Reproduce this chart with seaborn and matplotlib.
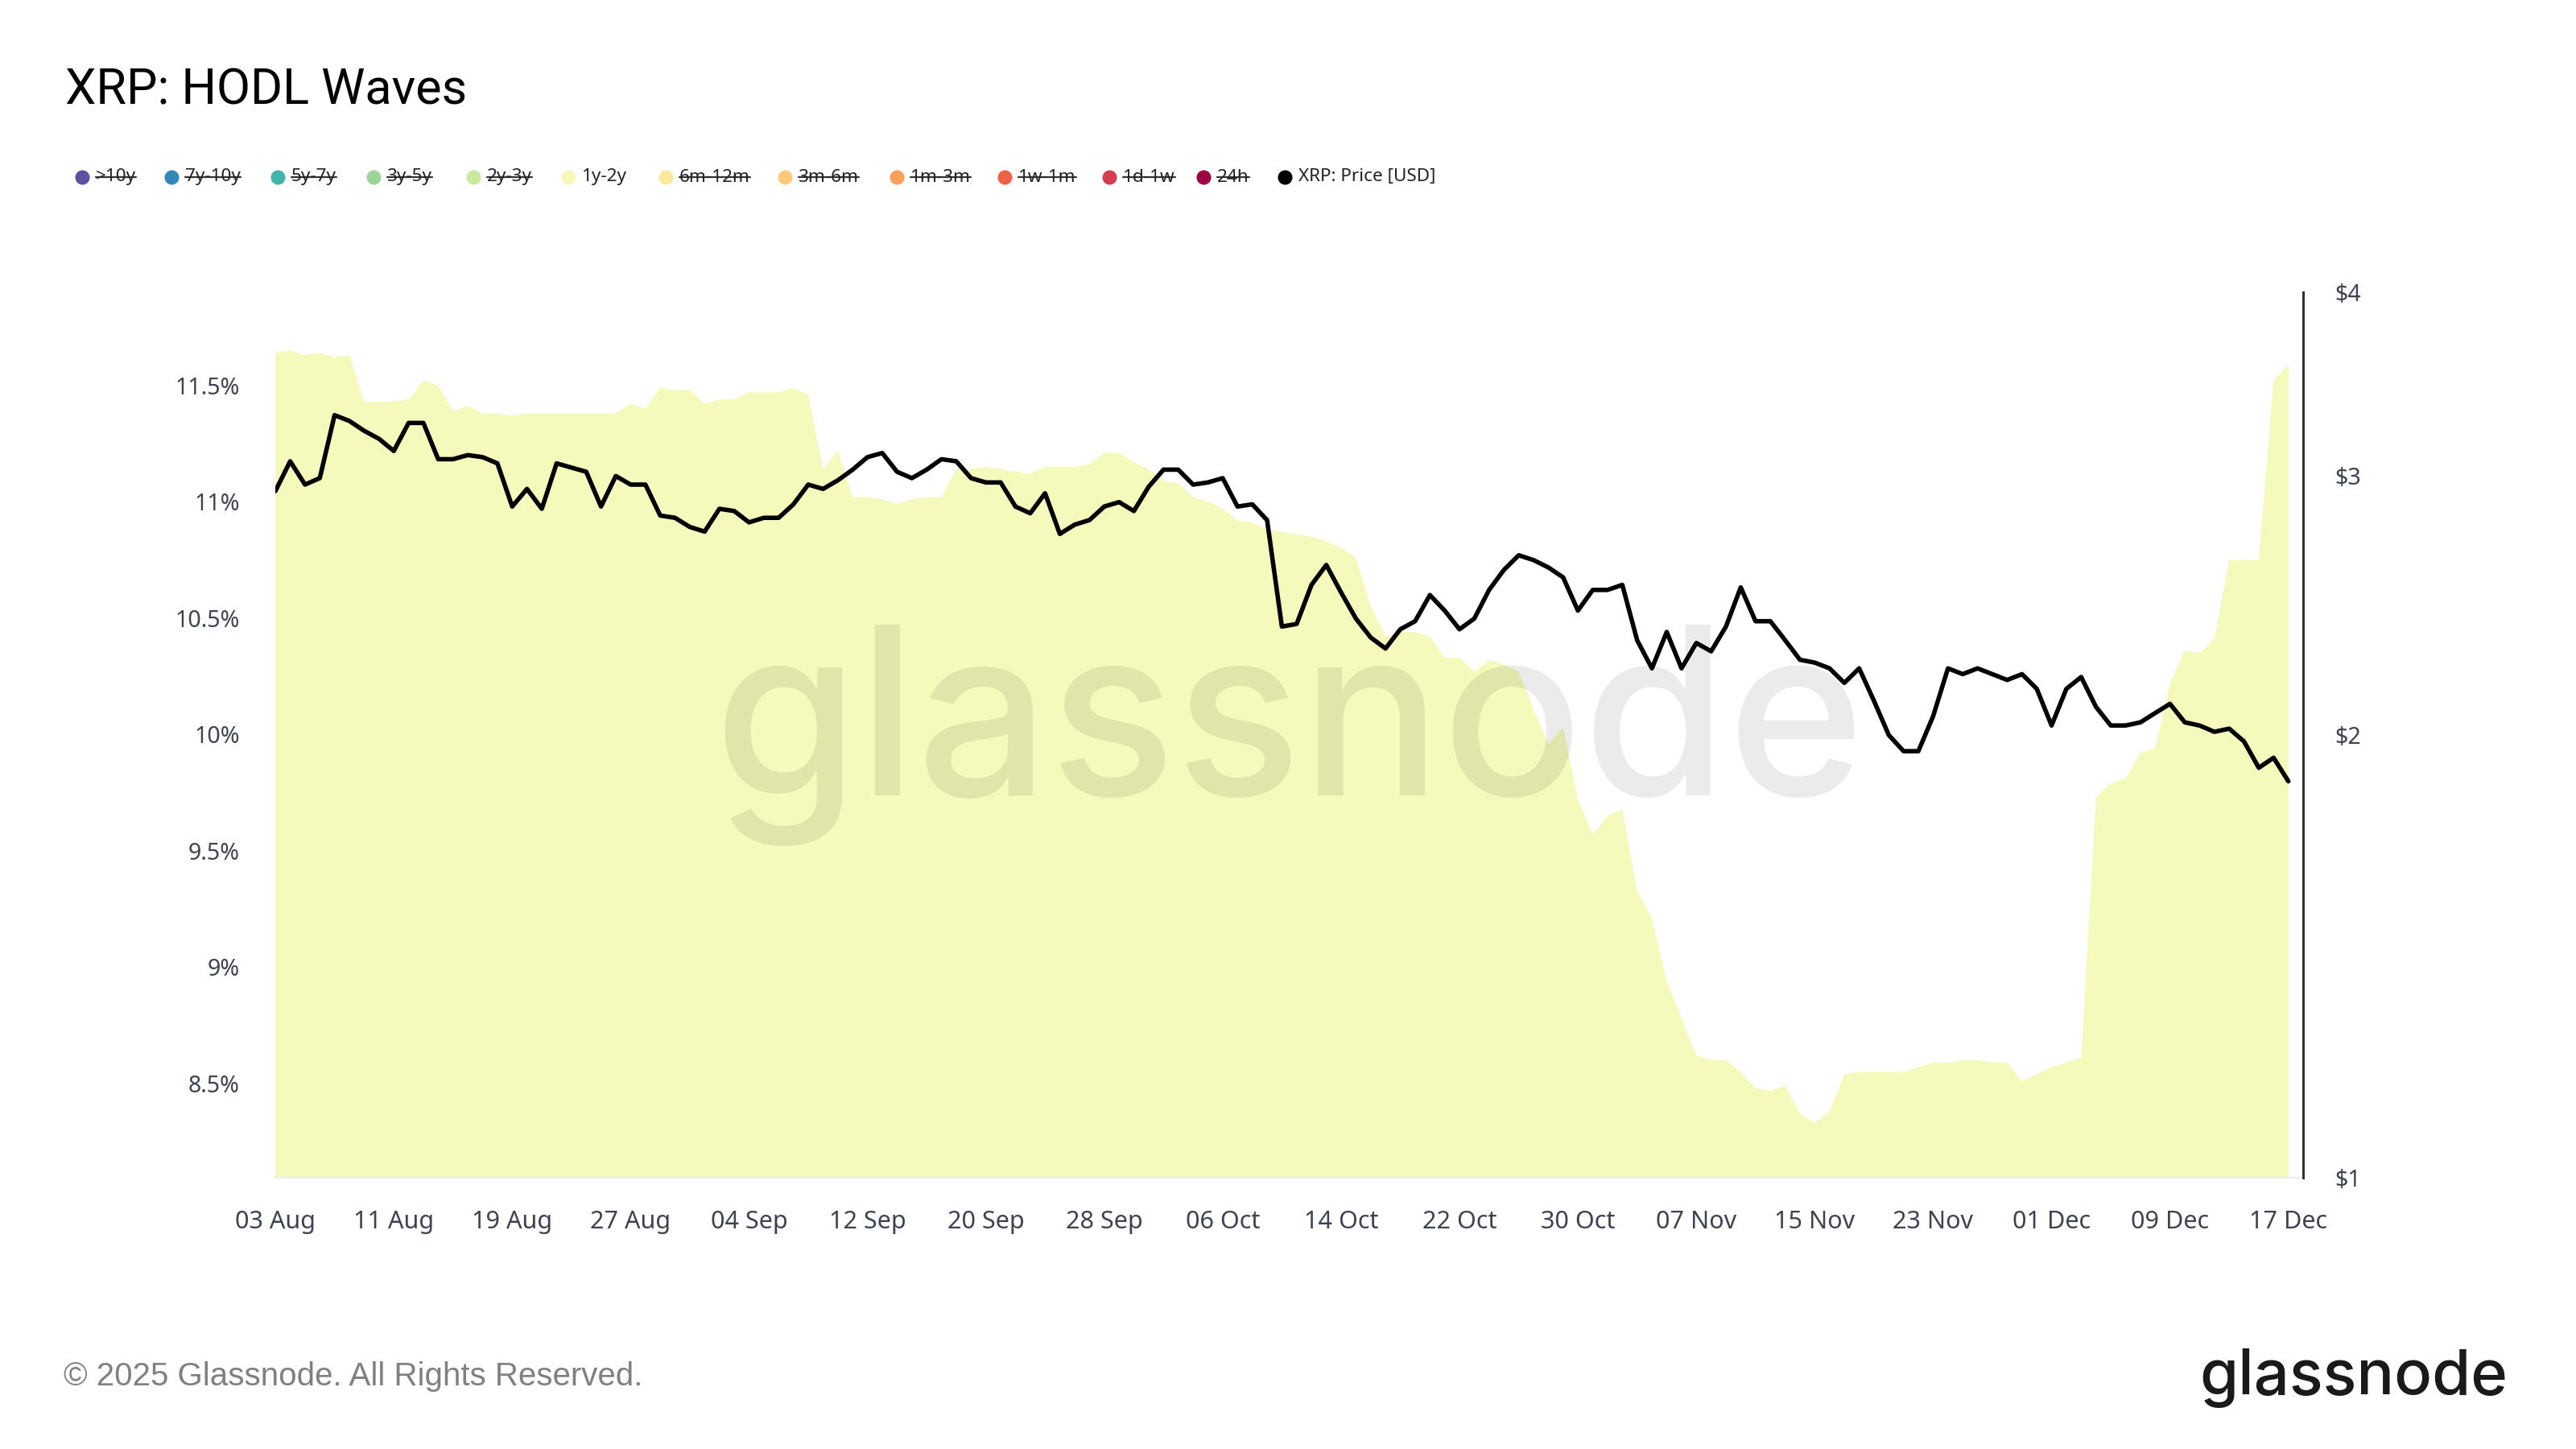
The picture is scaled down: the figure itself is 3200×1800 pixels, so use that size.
import numpy as np
import pandas as pd
import matplotlib
matplotlib.use("Agg")
import matplotlib.pyplot as plt
import matplotlib.dates as mdates
from matplotlib.lines import Line2D
from matplotlib.ticker import FixedLocator, NullLocator
import seaborn as sns

# daily values, 03 Aug -> 17 Dec 2025
dates = pd.date_range("2025-08-03", "2025-12-17", freq="D")

# share of supply held 1y-2y (%)
hodl_1y_2y = [
    11.64, 11.65, 11.63, 11.64, 11.62, 11.63, 11.43, 11.43, 11.43, 11.44,
    11.52, 11.50, 11.39, 11.41, 11.38, 11.38, 11.37, 11.38, 11.38, 11.38,
    11.38, 11.38, 11.38, 11.38, 11.42, 11.40, 11.49, 11.48, 11.48, 11.42,
    11.44, 11.44, 11.47, 11.47, 11.47, 11.49, 11.46, 11.14, 11.22, 11.02,
    11.02, 11.01, 10.99, 11.01, 11.02, 11.02, 11.14, 11.14, 11.15, 11.14,
    11.13, 11.12, 11.15, 11.15, 11.15, 11.16, 11.21, 11.21, 11.17, 11.14,
    11.09, 11.08, 11.02, 11.00, 10.97, 10.92, 10.91, 10.88, 10.87, 10.86,
    10.85, 10.83, 10.80, 10.76, 10.55, 10.42, 10.44, 10.44, 10.42, 10.33,
    10.33, 10.27, 10.32, 10.30, 10.27, 10.11, 9.96, 10.03, 9.72, 9.57,
    9.65, 9.68, 9.33, 9.21, 8.94, 8.78, 8.62, 8.60, 8.60, 8.55,
    8.48, 8.47, 8.49, 8.37, 8.33, 8.38, 8.54, 8.55, 8.55, 8.55,
    8.55, 8.57, 8.59, 8.59, 8.60, 8.60, 8.59, 8.59, 8.51, 8.54,
    8.57, 8.59, 8.61, 9.73, 9.79, 9.81, 9.92, 9.94, 10.22, 10.36,
    10.35, 10.41, 10.75, 10.75, 10.75, 11.52, 11.59,
]

# XRP price (USD)
xrp_price = [
    2.93, 3.07, 2.96, 2.99, 3.30, 3.27, 3.22, 3.18, 3.12, 3.26,
    3.26, 3.08, 3.08, 3.10, 3.09, 3.06, 2.86, 2.94, 2.85, 3.06,
    3.04, 3.02, 2.86, 3.00, 2.96, 2.96, 2.82, 2.81, 2.77, 2.75,
    2.85, 2.84, 2.79, 2.81, 2.81, 2.87, 2.96, 2.94, 2.98, 3.03,
    3.09, 3.11, 3.02, 2.99, 3.03, 3.08, 3.07, 2.99, 2.97, 2.97,
    2.86, 2.83, 2.92, 2.74, 2.78, 2.80, 2.86, 2.88, 2.84, 2.95,
    3.03, 3.03, 2.96, 2.97, 2.99, 2.86, 2.87, 2.80, 2.37, 2.38,
    2.53, 2.61, 2.50, 2.40, 2.33, 2.29, 2.36, 2.39, 2.49, 2.43,
    2.36, 2.40, 2.51, 2.59, 2.65, 2.63, 2.60, 2.56, 2.43, 2.51,
    2.51, 2.53, 2.32, 2.22, 2.35, 2.22, 2.31, 2.28, 2.37, 2.52,
    2.39, 2.39, 2.32, 2.25, 2.24, 2.22, 2.17, 2.22, 2.11, 2.00,
    1.95, 1.95, 2.06, 2.22, 2.20, 2.22, 2.20, 2.18, 2.20, 2.15,
    2.03, 2.15, 2.19, 2.09, 2.03, 2.03, 2.04, 2.07, 2.10, 2.04,
    2.03, 2.01, 2.02, 1.98, 1.90, 1.93, 1.86,
]

legend_labels = [">10y", "7y-10y", "5y-7y", "3y-5y", "2y-3y", "1y-2y", "6m-12m",
                 "3m-6m", "1m-3m", "1w-1m", "1d-1w", "24h", "XRP: Price [USD]"]
legend_colors = ["#5e4fa2", "#3288bd", "#3fb6a8", "#99d59b", "#c9e99d", "#f5f9b5",
                 "#fee89a", "#fdc97a", "#fb9f5c", "#ee6245", "#d53e4f", "#9e0142",
                 "#000000"]
legend_active = [False, False, False, False, False, True, False,
                 False, False, False, False, False, True]

price_ticks = [1, 2, 3, 4]
pct_ticks = [8.5, 9, 9.5, 10, 10.5, 11, 11.5]

df = pd.DataFrame({"date": dates, "hodl": hodl_1y_2y, "price": xrp_price})

sns.set_theme(style="white")
plt.rcParams["font.family"] = ["Noto Sans", "DejaVu Sans"]

fig = plt.figure(figsize=(16, 9), dpi=200)
ax = fig.add_axes([0.1069, 0.1872, 0.7872, 0.6111])

ax.fill_between(df["date"], 0, df["hodl"], color="#f5f9bb", lw=0, zorder=1)
ax.set_ylim(8.095, 11.9)
ax.yaxis.set_major_locator(FixedLocator(pct_ticks))
ax.set_yticklabels([f"{t:g}%" for t in pct_ticks])
ax.tick_params(axis="y", length=0, pad=16, labelsize=10.3, labelcolor="#3d4351")
ax.tick_params(axis="x", length=9.5, width=1.1, color="#e6e6e6", pad=5,
               labelsize=11, labelcolor="#3d4351")
for s in ["left", "top", "right"]:
    ax.spines[s].set_visible(False)
ax.spines["bottom"].set_color("#ececec")
ax.spines["bottom"].set_linewidth(0.8)

# watermark
ax.text(0.5006, 0.451, "glassnode", transform=fig.transFigure, ha="center",
        va="baseline", fontsize=104.5, family=["Inter", "DejaVu Sans"],
        fontweight="medium", color="black", alpha=0.08, zorder=3)

ax2 = ax.twinx()
sns.lineplot(data=df, x="date", y="price", ax=ax2, color="black", lw=2.0)
ax2.set_yscale("log")
ax2.set_ylim(1, 4)
ax2.yaxis.set_major_locator(FixedLocator(price_ticks))
ax2.yaxis.set_minor_locator(NullLocator())
ax2.set_yticklabels([f"${t}" for t in price_ticks])
ax2.tick_params(axis="y", length=0, pad=14, labelsize=10.3, labelcolor="#3d4351")
for s in ["left", "top", "bottom"]:
    ax2.spines[s].set_visible(False)
ax2.spines["right"].set_color("#333333")
ax2.spines["right"].set_linewidth(1.1)
ax2.set_xlabel("")
ax2.set_ylabel("")
ax.set_xlabel("")

ax.set_xlim(dates[0], dates[-1] + pd.Timedelta(days=1))
ax.xaxis.set_major_locator(FixedLocator(mdates.date2num(dates[::8])))
ax.xaxis.set_major_formatter(mdates.DateFormatter("%d %b"))

# title, footer, logo
fig.text(0.0253, 0.928, "XRP: HODL Waves", fontsize=22, family=["Roboto", "DejaVu Sans"],
         color="black", va="baseline")
fig.text(0.0247, 0.044, "\u00a9 2025 Glassnode. All Rights Reserved.", fontsize=14.5,
         family=["Liberation Sans", "DejaVu Sans"], color="#808080", va="baseline")
fig.text(0.9735, 0.038, "glassnode", fontsize=28, family=["Inter", "DejaVu Sans"],
         fontweight="medium", color="#1a1a1a", ha="right", va="baseline")

# legend row
marker_x = [102, 213, 345, 464, 588, 706, 827, 975, 1114, 1248, 1378, 1495, 1596]
ly = 1 - 220 / 1800
renderer = fig.canvas.get_renderer()
for mx, lab, col, on in zip(marker_x, legend_labels, legend_colors, legend_active):
    fig.add_artist(Line2D([mx / 3200], [ly], marker="o", ms=5.5, color=col, lw=0,
                          transform=fig.transFigure))
    t = fig.text((mx + 17) / 3200, ly, lab, fontsize=8.1, color="#222222", va="center")
    if not on:
        bb = t.get_window_extent(renderer).transformed(fig.transFigure.inverted())
        fig.add_artist(Line2D([bb.x0, bb.x1], [ly, ly], color="#333333", lw=0.8,
                              transform=fig.transFigure))

fig.savefig("out.png", dpi=200)
plt.close(fig)
